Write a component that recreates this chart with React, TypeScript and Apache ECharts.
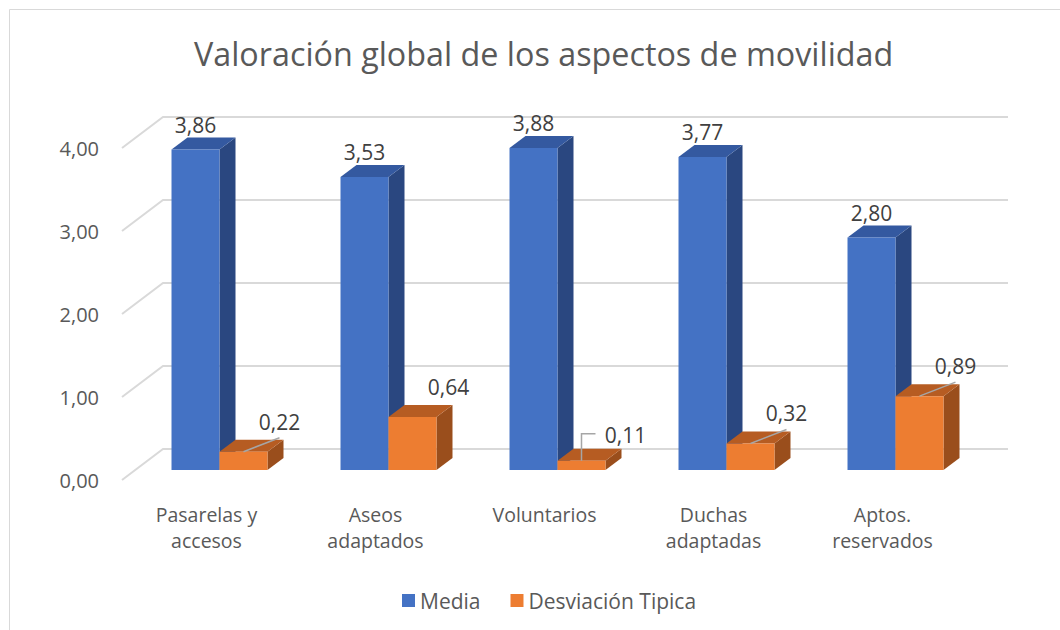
import React, { useEffect, useRef } from "react";
import * as echarts from "echarts";

const categories = ["Pasarelas y\naccesos", "Aseos\nadaptados", "Voluntarios", "Duchas\nadaptadas", "Aptos.\nreservados"];
const mediaValues = [3.86, 3.53, 3.88, 3.77, 2.8];
const desviacionValues = [0.22, 0.64, 0.11, 0.32, 0.89];
const yTicks = [0, 1, 2, 3, 4];
const seriesNames = ["Media", "Desviación Tipica"];
const leaderKinds = ["line", "none", "elbow", "line", "line"];

const FONT = "Open Sans";
const fmt = (v: number) => v.toFixed(2).replace(".", ",");

// depth geometry (pixels)
const FRONT_TO_BAR = [13, -10];
const FRONT_TO_WALL = [41, -31];
const BAR_DEPTH = [16, -12];

const palettes = [
  { front: "#4472C4", top: "#3459A0", side: "#2A4780" },
  { front: "#ED7D31", top: "#B65C22", side: "#9A4E1C" },
];

function makeBarRender(si: number) {
  return (params: any, api: any) => {
    const idx = api.value(0);
    const val = api.value(1);
    const band = api.size([1, 0])[0];
    const bw = band * 0.284;
    const base = api.coord([idx, 0]);
    const topP = api.coord([idx, val]);
    const x0 = base[0] + FRONT_TO_BAR[0] - (si === 0 ? bw : 0);
    const yb = base[1] + FRONT_TO_BAR[1];
    const yt = topP[1] + FRONT_TO_BAR[1];
    const [dx, dy] = BAR_DEPTH;
    const pal = palettes[si];
    const children: any[] = [
      {
        type: "polygon",
        shape: { points: [[x0 + bw, yt], [x0 + bw + dx, yt + dy], [x0 + bw + dx, yb + dy], [x0 + bw, yb]] },
        style: { fill: pal.side },
      },
      {
        type: "polygon",
        shape: { points: [[x0, yt], [x0 + bw, yt], [x0 + bw + dx, yt + dy], [x0 + dx, yt + dy]] },
        style: { fill: pal.top },
      },
      {
        type: "rect",
        shape: { x: x0, y: yt, width: bw, height: yb - yt },
        style: { fill: pal.front },
      },
    ];
    const txt = fmt(val);
    const cx = x0 + bw / 2;
    if (si === 0) {
      children.push({
        type: "text",
        style: { text: txt, x: cx, y: yt - 25, align: "center", verticalAlign: "middle", fontSize: 21, fontFamily: FONT, fill: "#404040" },
      });
    } else {
      const kind = leaderKinds[idx];
      let lx = x0 + bw + 12;
      let ly = yt - 30;
      if (kind === "elbow") {
        lx = x0 + bw + 20;
        ly = yt - 26;
        children.push({
          type: "polyline",
          shape: { points: [[cx, yt], [cx, yt - 27], [cx + 14, yt - 27]] },
          style: { stroke: "#A6A6A6", lineWidth: 1.5, fill: null },
        });
      } else if (kind === "line") {
        children.push({
          type: "line",
          shape: { x1: cx, y1: yt, x2: lx, y2: ly + 16 },
          style: { stroke: "#A6A6A6", lineWidth: 1.5 },
        });
      }
      children.push({
        type: "text",
        style: { text: txt, x: lx, y: ly, align: "center", verticalAlign: "middle", fontSize: 21, fontFamily: FONT, fill: "#404040" },
      });
    }
    return { type: "group", children };
  };
}

function gridRender(params: any, api: any) {
  const v = api.value(1);
  const p = api.coord([0, v]);
  const cs = params.coordSys;
  const left = cs.x;
  const right = cs.x + cs.width;
  const [wx, wy] = FRONT_TO_WALL;
  return {
    type: "polyline",
    shape: { points: [[left, p[1]], [left + wx, p[1] + wy], [right + wx, p[1] + wy]] },
    style: { stroke: "#D9D9D9", lineWidth: 2, fill: null },
    silent: true,
  };
}

export default function App() {
  const ref = useRef<HTMLDivElement>(null);
  useEffect(() => {
    if (!ref.current) return;
    const chart = echarts.init(ref.current, undefined, { renderer: "svg" });
    chart.setOption({
      animation: false,
      backgroundColor: "#ffffff",
      title: {
        text: "Valoración global de los aspectos de movilidad",
        left: 189,
        top: 32,
        textStyle: { fontFamily: FONT, fontSize: 32.3, fontWeight: "normal", color: "#595959" },
      },
      legend: {
        data: seriesNames,
        top: 585,
        left: 397,
        itemWidth: 13,
        itemHeight: 13,
        itemGap: 30,
        icon: "rect",
        textStyle: { fontFamily: FONT, fontSize: 21, color: "#595959" },
      },
      graphic: [
        {
          type: "rect",
          shape: { x: 9.5, y: 9.5, width: 1060, height: 640 },
          style: { fill: null, stroke: "#D9D9D9", lineWidth: 1 },
          silent: true,
          z: -10,
        },
      ],
      grid: { left: 122, right: 93, top: 148, bottom: 150, containLabel: false },
      xAxis: {
        type: "category",
        data: categories,
        axisLine: { show: false },
        axisTick: { show: false },
        splitLine: { show: false },
        axisLabel: { fontFamily: FONT, fontSize: 19.5, color: "#595959", lineHeight: 26, margin: 21, interval: 0 },
      },
      yAxis: {
        type: "value",
        min: 0,
        max: 4,
        interval: 1,
        axisLine: { show: false },
        axisTick: { show: false },
        splitLine: { show: false },
        axisLabel: { fontFamily: FONT, fontSize: 20, color: "#595959", margin: 23, formatter: (v: number) => fmt(v) },
      },
      series: [
        {
          type: "custom",
          name: "grid",
          silent: true,
          renderItem: gridRender,
          data: yTicks.map((v) => [0, v]),
          encode: { x: 0, y: 1 },
          clip: false,
          z: 1,
        },
        {
          type: "custom",
          name: seriesNames[0],
          itemStyle: { color: palettes[0].front },
          renderItem: makeBarRender(0),
          data: mediaValues.map((v, i) => [i, v]),
          encode: { x: 0, y: 1 },
          clip: false,
          z: 2,
        },
        {
          type: "custom",
          name: seriesNames[1],
          itemStyle: { color: palettes[1].front },
          renderItem: makeBarRender(1),
          data: desviacionValues.map((v, i) => [i, v]),
          encode: { x: 0, y: 1 },
          clip: false,
          z: 3,
        },
      ],
    });
    return () => chart.dispose();
  }, []);
  return <div ref={ref} style={{ position: "absolute", left: 0, top: 0, width: 1060, height: 630 }} />;
}
